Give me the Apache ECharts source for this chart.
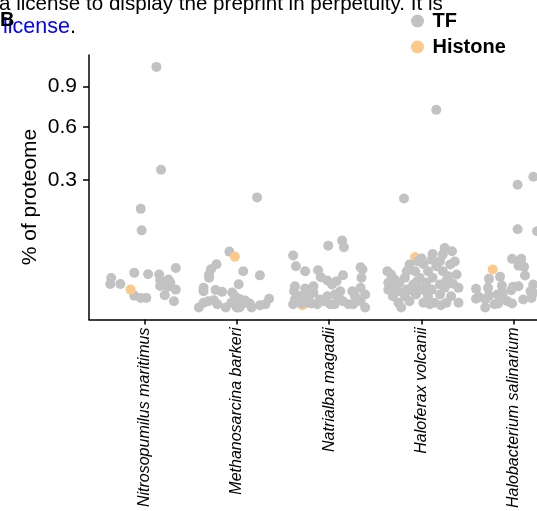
<!DOCTYPE html>
<html>
<head>
<meta charset="utf-8">
<script src="https://cdn.jsdelivr.net/npm/echarts@6/dist/echarts.min.js"></script>
<style>
  html, body { margin: 0; padding: 0; background: #fff; }
  #chart { width: 537px; height: 511px; }
</style>
</head>
<body>
<div id="chart"></div>
<script>
'use strict';

var species = ['Nitrosopumilus maritimus', 'Methanosarcina barkeri', 'Natrialba magadii', 'Haloferax volcanii', 'Halobacterium salinarium'];
var yTicks = [0.3, 0.6, 0.9];

// [jitter, % of proteome]
var nitrosopumilusTF = [[0.13, 1.065], [0.18, 0.349], [-0.04, 0.179], [-0.03, 0.1095], [-0.36, 0.016], [-0.37, 0.0101],
  [-0.26, 0.0101], [-0.11, 0.0221], [-0.11, 0.0026], [-0.04, 0.0017], [0.02, 0.0017], [0.04, 0.0203], [0.16, 0.02],
  [0.17, 0.0139], [0.17, 0.0085], [0.22, 0.0028], [0.26, 0.0144], [0.28, 0.0115], [0.25, 0.0077], [0.34, 0.0286],
  [0.34, 0.0059], [0.32, 0.0007]];
var methanosarcinaTF = [[0.22, 0.223], [-0.08, 0.0575], [-0.22, 0.0344], [-0.28, 0.0269], [-0.30, 0.02], [-0.30, 0.0162],
  [0.07, 0.0241], [0.25, 0.019], [0.02, 0.0099], [-0.36, 0.0071], [-0.36, 0.0049], [-0.23, 0.0056], [-0.16, 0.0045],
  [-0.05, 0.0041], [-0.02, 0.0023], [0.03, 0.0013], [0.09, 0.0009], [0.14, 0.0003], [0.16, 0], [0.25, 0.0001],
  [0.31, 0.0002], [0.35, 0.0014], [-0.41, 0], [-0.36, 0.0004], [-0.31, 0.0007], [-0.25, 0.001], [-0.21, 0.0002],
  [-0.12, 0], [-0.06, 0.0004], [0.03, 0], [0.0, 0], [0.07, 0.0003]];
var natrialbaTF = [[0.14, 0.0823], [-0.01, 0.0704], [0.16, 0.0666], [-0.39, 0.0496], [-0.36, 0.0313], [-0.26, 0.0241],
  [-0.12, 0.0255], [-0.09, 0.0168], [-0.02, 0.0134], [0.03, 0.0097], [0.08, 0.0127], [0.15, 0.0191], [0.34, 0.0298],
  [0.36, 0.0265], [0.35, 0.0162], [-0.37, 0.0083], [-0.38, 0.0049], [-0.26, 0.0066], [-0.17, 0.0083], [-0.17, 0.004],
  [-0.31, 0.0023], [-0.37, 0.0012], [-0.39, 0.0002], [-0.30, 0.0003], [-0.24, 0.0004], [-0.19, 0.0003], [-0.13, 0.0002],
  [-0.10, 0.0012], [-0.02, 0.0023], [0.01, 0.0002], [0.06, 0.0002], [0.06, 0.0031], [0.12, 0.0049], [0.15, 0.0007],
  [0.21, 0.0002], [0.25, 0.0049], [0.28, 0.0023], [0.34, 0.0071], [0.39, 0.0031], [0.34, 0.0007], [0.39, 0],
  [0.26, 0.0002], [0.10, 0.0023], [-0.06, 0.0007], [-0.22, 0.0023]];
var haloferaxTF = [[0.16, 0.7185], [-0.19, 0.2189], [0.25, 0.0653], [0.33, 0.0581], [0.12, 0.0528], [0.23, 0.0515],
  [0.0, 0.044], [0.11, 0.0422], [0.20, 0.0393], [-0.13, 0.0339], [0.02, 0.035], [0.16, 0.0313], [0.31, 0.0339],
  [-0.37, 0.0241], [-0.33, 0.02], [-0.16, 0.0241], [-0.07, 0.0241], [0.07, 0.0241], [0.23, 0.0241], [0.38, 0.02],
  [-0.18, 0.0162], [-0.02, 0.0162], [0.12, 0.0162], [0.29, 0.018], [-0.36, 0.0112], [-0.24, 0.0112], [-0.09, 0.0097],
  [0.05, 0.0112], [0.20, 0.0097], [0.34, 0.0103], [-0.36, 0.0059], [-0.25, 0.0049], [-0.16, 0.0059], [-0.02, 0.0059],
  [0.11, 0.0059], [0.25, 0.0071], [0.40, 0.0071], [-0.31, 0.0023], [-0.18, 0.0023], [-0.06, 0.0031], [0.07, 0.0023],
  [0.20, 0.0031], [0.32, 0.0023], [-0.25, 0.0004], [-0.13, 0.0007], [0.02, 0.0004], [0.14, 0.0004], [0.27, 0.0004],
  [0.40, 0.0004], [-0.22, 0], [0.21, 0.0001], [-0.29, 0.0144], [0.05, 0.0047], [-0.10, 0.0053], [0.27, 0.0134],
  [0.36, 0.0388], [-0.05, 0.0124], [-0.31, 0.0073], [0.09, 0.0002], [-0.04, 0.0395]];
var halobacteriumTF = [[0.04, 0.2772], [0.21, 0.3145], [0.04, 0.1129], [0.25, 0.1072], [-0.02, 0.0435], [0.08, 0.0435],
  [0.05, 0.0323], [0.11, 0.0304], [-0.27, 0.0151], [-0.15, 0.0173], [0.12, 0.0188], [0.21, 0.0097], [-0.41, 0.0064],
  [-0.28, 0.0071], [-0.13, 0.0089], [-0.13, 0.0043], [-0.01, 0.0079], [0.05, 0.0083], [-0.03, 0.0055], [0.18, 0.0049],
  [-0.38, 0.0021], [-0.31, 0.0012], [-0.27, 0.0026], [-0.18, 0.0031], [-0.12, 0.0023], [-0.17, 0.0003], [-0.21, 0.0002],
  [-0.31, 0], [-0.07, 0.0007], [-0.02, 0.0003], [0.10, 0.0012], [0.19, 0.0017], [0.21, 0.004], [-0.41, 0.0014]];

var nitrosopumilusHistone = [[-0.15, 0.0059]];
var methanosarcinaHistone = [[-0.02, 0.0473]];
var natrialbaHistone = [[-0.29, 0.0001]];
var haloferaxHistone = [[-0.07, 0.0465]];
var halobacteriumHistone = [[-0.23, 0.0265]];

var grey = '#C2C2C2';
var orange = '#FDC98A';
var font = "'Liberation Sans', Arial, Helvetica, sans-serif";

// y is drawn on a square-root scale
var toPoints = function(groups) {
  var out = [];
  groups.forEach(function(g) {
    g.rows.forEach(function(r) {
      out.push([g.pos + r[0], Math.sqrt(r[1])]);
    });
  });
  return out;
};

var tfPoints = toPoints([
  {pos: 1, rows: nitrosopumilusTF},
  {pos: 2, rows: methanosarcinaTF},
  {pos: 3, rows: natrialbaTF},
  {pos: 4, rows: haloferaxTF},
  {pos: 5, rows: halobacteriumTF}
]);
// histones partly hidden under the TF cloud
var histoneUnder = toPoints([
  {pos: 3, rows: natrialbaHistone},
  {pos: 4, rows: haloferaxHistone}
]);
var histoneOver = toPoints([
  {pos: 1, rows: nitrosopumilusHistone},
  {pos: 2, rows: methanosarcinaHistone},
  {pos: 5, rows: halobacteriumHistone}
]);

var chart = echarts.init(document.getElementById('chart'));

chart.setOption({
  animation: false,
  grid: { left: 89, right: 0, top: 55, bottom: 191, containLabel: false },
  legend: {
    data: ['TF', 'Histone'],
    orient: 'vertical',
    left: 406,
    top: 6,
    icon: 'circle',
    itemWidth: 20,
    itemHeight: 13,
    itemGap: 6,
    textStyle: { fontFamily: font, fontSize: 20, fontWeight: 'bold', color: '#000', lineHeight: 20 }
  },
  xAxis: {
    type: 'value',
    min: 0.4,
    max: 5.25,
    splitLine: { show: false },
    axisLine: { show: true, onZero: false, lineStyle: { color: '#000', width: 1.5 } },
    axisTick: { show: true, length: 5, customValues: [1, 2, 3, 4, 5], lineStyle: { color: '#000', width: 1.5 } },
    axisLabel: {
      customValues: [1, 2, 3, 4, 5],
      rotate: 90,
      margin: 8,
      fontFamily: font,
      fontSize: 16,
      fontStyle: 'italic',
      color: '#000',
      formatter: function(v) { return species[Math.round(v) - 1]; }
    }
  },
  yAxis: {
    type: 'value',
    min: -0.0514,
    max: 1.083,
    splitLine: { show: false },
    axisLine: { show: true, onZero: false, lineStyle: { color: '#000', width: 1.5 } },
    axisTick: { show: true, length: 6, customValues: yTicks.map(Math.sqrt), lineStyle: { color: '#000', width: 1.5 } },
    axisLabel: {
      customValues: yTicks.map(Math.sqrt),
      margin: 12,
      fontFamily: font,
      fontSize: 21,
      color: '#000',
      formatter: function(v) { return (v * v).toFixed(1); }
    }
  },
  series: [
    {
      name: 'Histone',
      type: 'scatter',
      symbolSize: 10,
      itemStyle: { color: orange, opacity: 1 },
      data: histoneUnder
    },
    {
      name: 'TF',
      type: 'scatter',
      symbolSize: 10,
      itemStyle: { color: grey, opacity: 1 },
      data: tfPoints
    },
    {
      name: 'Histone',
      type: 'scatter',
      symbolSize: 10,
      itemStyle: { color: orange, opacity: 1 },
      data: histoneOver
    }
  ],
  graphic: [
    {
      type: 'text', left: -1, top: -6,
      style: { text: 'a license to display the preprint in perpetuity. It is', font: '20.6px ' + font, fill: '#000' }
    },
    {
      type: 'text', left: 3, top: 16,
      style: {
        text: '{b|license}{k|.}',
        rich: {
          b: { font: '21.5px ' + font, fill: '#0000FF', color: '#0000FF' },
          k: { font: '21.5px ' + font, fill: '#000', color: '#000' }
        }
      }
    },
    {
      type: 'text', left: 0, top: 10,
      style: { text: 'B', font: 'bold 20px ' + font, fill: '#000' }
    },
    {
      type: 'text', x: 30, y: 197, rotation: Math.PI / 2,
      style: { text: '% of proteome', font: '21px ' + font, fill: '#000', align: 'center', verticalAlign: 'middle' }
    }
  ]
});
</script>
</body>
</html>
